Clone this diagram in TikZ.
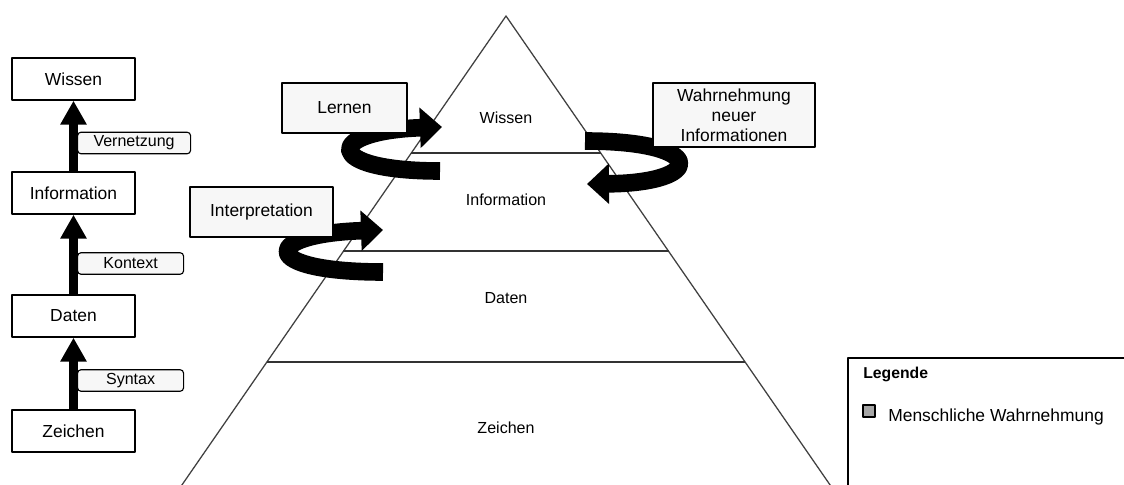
\documentclass[tikz,border=0pt]{standalone}
\usepackage{fontspec}
\setmainfont{Liberation Sans}
\usetikzlibrary{arrows.meta}

\begin{document}
\begin{tikzpicture}[x=0.025cm,y=-0.025cm,line join=round,
    stufe/.style={draw,line width=1pt,minimum width=3.075cm,minimum height=1.05cm,inner sep=0pt,font=\fontsize{12.4}{14}\selectfont},
    hinweis/.style={draw,line width=0.8pt,fill=gray!6,rounded corners=2.5pt,anchor=west,minimum height=0.54cm,inner sep=0pt,font=\fontsize{11.4}{13}\selectfont},
    prozess/.style={draw,line width=1pt,fill=gray!6,minimum height=1.25cm,inner sep=0pt,align=center,font=\fontsize{12.4}{14.2}\selectfont},
    ebene/.style={font=\fontsize{11.4}{13}\selectfont},
    hoch/.style={line width=0.2cm,-{Triangle[length=0.6cm,width=0.625cm]}},
    kreis/.style={line width=0.44cm,-{Triangle[length=0.55cm,width=0.98cm]}}]
    \useasboundingbox (0,0) rectangle (1124,485);
    \clip (0,0) rectangle (1124,485);

    % linke Spalte
    \begin{scope}[shift={(0,0)}]
      \node[stufe] (wissen) at (73.5,79) {Wissen};
      \node[stufe] (information) at (73.5,193) {Information};
      \node[stufe] (daten) at (73.5,316) {Daten};
      \node[stufe] (zeichen) at (73.5,431) {Zeichen};
      \node[hinweis,minimum width=2.825cm] (vernetzung) at (77,143) {Vernetzung};
      \node[hinweis,minimum width=2.65cm] (kontext) at (77,263.5) {Kontext};
      \node[hinweis,minimum width=2.65cm] (syntax) at (77,380.5) {Syntax};
      \draw[hoch] (zeichen.north) -- (daten.south);
      \draw[hoch] (daten.north) -- (information.south);
      \draw[hoch] (information.north) -- (wissen.south);
    \end{scope}

    % Pyramide
    \begin{scope}[shift={(0,0)}]
      \draw[line width=0.9pt,black!75] (175,495) -- (506,16) -- (837,495);
      \draw[line width=0.8pt,black!80] (411,153) -- (601,153);
      \draw[line width=0.8pt,black!80] (343,251) -- (669,251);
      \draw[line width=0.8pt,black!80] (267,362) -- (745,362);
      \node[ebene] (p-wissen) at (506,118) {Wissen};
      \node[ebene] (p-information) at (506,200) {Information};
      \node[ebene] (p-daten) at (506,298) {Daten};
      \node[ebene] (p-zeichen) at (506,428) {Zeichen};
    \end{scope}

    % Kreislaeufe
    \draw[kreis] (440,171) .. controls (322,171) and (324,131) .. (442,127);
    \draw[kreis] (383,272) .. controls (258,272) and (260,234) .. (383,230);
    \draw[kreis] (585,141) .. controls (708,141) and (706,183) .. (587,184);

    \node[prozess,minimum width=3.125cm] (lernen) at (344.5,108) {Lernen};
    \node[prozess,minimum width=3.575cm] (interpretation) at (261.5,212) {Interpretation};
    \node[prozess,minimum width=4.05cm,minimum height=1.6cm] (wahrnehmung) at (734,115) {Wahrnehmung\\neuer\\Informationen};

    % Legende
    \begin{scope}[shift={(848,358)}]
      \draw[line width=1pt] (0,140) |- (290,0);
      \node[anchor=base west,inner sep=0pt,font=\bfseries\fontsize{11.2}{13}\selectfont] (legende) at (15,20) {Legende};
      \draw[line width=0.8pt,fill=black!35] (15,47) rectangle (27,59);
      \node[anchor=base west,inner sep=0pt,font=\fontsize{12.4}{14}\selectfont] (mensch) at (40,63) {Menschliche Wahrnehmung};
    \end{scope}
  \end{tikzpicture}
\end{document}
